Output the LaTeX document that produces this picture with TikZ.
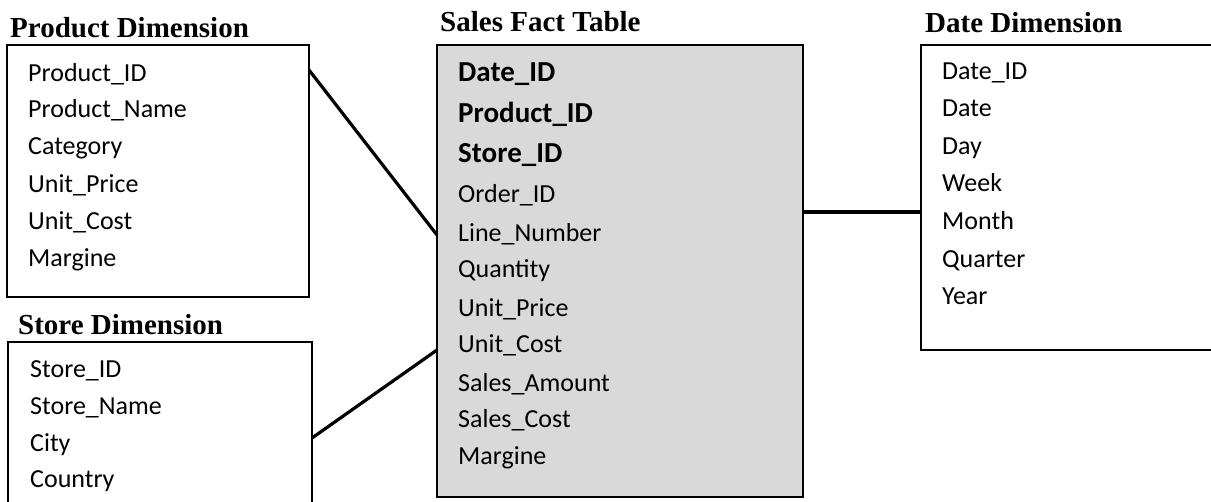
\documentclass[tikz,border=0pt]{standalone}
\usepackage{fontspec}
\setmainfont{Liberation Serif}
\newfontfamily\calfont{Carlito}
\definecolor{factgray}{RGB}{217,217,217}
\begin{document}
\begin{tikzpicture}[x=1pt,y=-1pt,
  box/.style={draw=black,line width=1.8pt,anchor=north west,inner sep=0pt,outer sep=0pt},
  title/.style={anchor=base west,inner sep=0pt,font=\fontsize{29}{29}\selectfont\bfseries},
  row/.style={anchor=base west,inner sep=0pt,font=\calfont\fontsize{26}{26}\selectfont},
  brow/.style={anchor=base west,inner sep=0pt,font=\calfont\fontsize{29}{29}\selectfont\bfseries},
  conn/.style={line width=3.2pt}]
\useasboundingbox (0,0) rectangle (1211,502);
\clip (0,0) rectangle (1211,502);
\fill[white] (0,0) rectangle (1211,502);
% boxes
\node[box,minimum width=302pt,minimum height=252pt] (prod) at (7,45) {};
\node[box,minimum width=304pt,minimum height=200pt] (store) at (8,342) {};
\node[box,fill=factgray,minimum width=366pt,minimum height=452pt] (fact) at (437,45) {};
\node[box,minimum width=330pt,minimum height=305pt] (date) at (921,45) {};
% titles
\node[title] (tprod) at (10,38) {Product Dimension};
\node[title] (tstore) at (18,335) {Store Dimension};
\node[title] (tfact) at (440,32) {Sales Fact Table};
\node[title] (tdate) at (925,33) {Date Dimension};
% product rows
\node[row] (p1) at (28,82) {Product\_ID};
\node[row] (p2) at (28,118) {Product\_Name};
\node[row] (p3) at (28,155) {Category};
\node[row] (p4) at (28,193) {Unit\_Price};
\node[row] (p5) at (28,230) {Unit\_Cost};
\node[row] (p6) at (28,267) {Margine};
% store rows
\node[row] (s1) at (30,378) {Store\_ID};
\node[row] (s2) at (30,415) {Store\_Name};
\node[row] (s3) at (30,452) {City};
\node[row] (s4) at (30,488) {Country};
% fact rows
\node[brow] (f1) at (458,82) {Date\_ID};
\node[brow] (f2) at (458,123) {Product\_ID};
\node[brow] (f3) at (458,163) {Store\_ID};
\node[row] (f4) at (458,203) {Order\_ID};
\node[row] (f5) at (458,242) {Line\_Number};
\node[row] (f6) at (458,278) {Quantity};
\node[row] (f7) at (458,317) {Unit\_Price};
\node[row] (f8) at (458,353) {Unit\_Cost};
\node[row] (f9) at (458,392) {Sales\_Amount};
\node[row] (f10) at (458,428) {Sales\_Cost};
\node[row] (f11) at (458,465) {Margine};
% date rows
\node[row] (d1) at (942,80) {Date\_ID};
\node[row] (d2) at (942,117) {Date};
\node[row] (d3) at (942,155) {Day};
\node[row] (d4) at (942,192) {Week};
\node[row] (d5) at (942,230) {Month};
\node[row] (d6) at (942,268) {Quarter};
\node[row] (d7) at (942,305) {Year};
% connectors
\draw[conn] ([yshift=-25pt]prod.north east) -- ([yshift=-190pt]fact.north west);
\draw[conn] ([yshift=-96pt]store.north east) -- ([yshift=-305pt]fact.north west);
\draw[conn] ([yshift=-167pt]fact.north east) -- ([yshift=-167pt]date.north west);
\end{tikzpicture}
\end{document}
